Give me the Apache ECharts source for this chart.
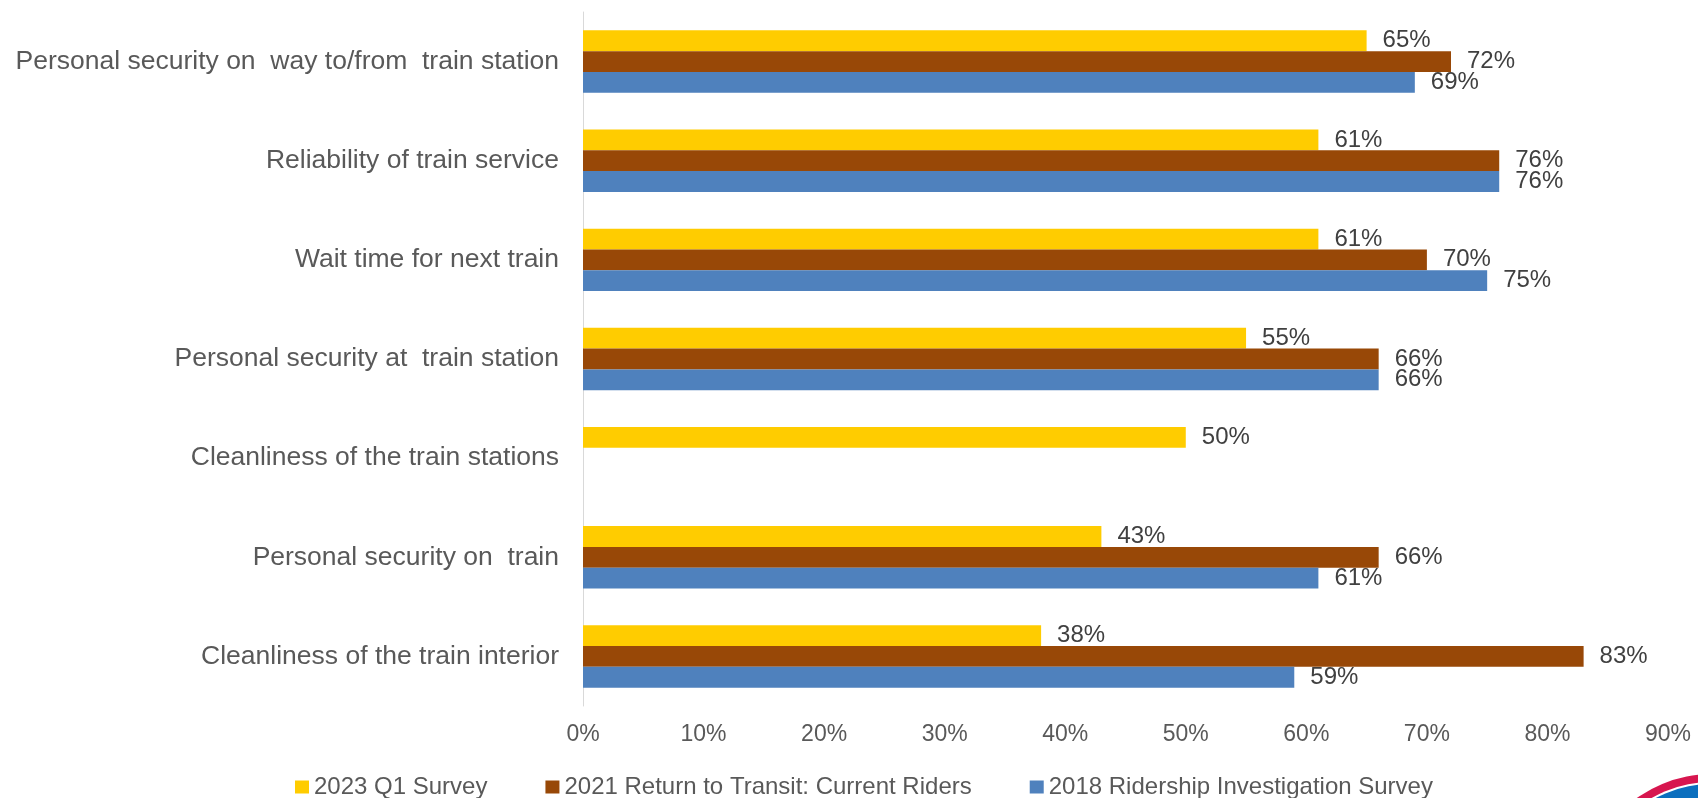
<!DOCTYPE html>
<html>
<head>
<meta charset="utf-8">
<title>Satisfaction with rail service attributes</title>
<script src="https://cdn.jsdelivr.net/npm/echarts@6/dist/echarts.min.js"></script>
<style>
  html, body { margin: 0; padding: 0; background: #ffffff; }
  #chart { width: 1698px; height: 798px; }
</style>
</head>
<body>
<div id="chart"></div>
<script>
// Attributes, listed top to bottom
const categories = [
  'Personal security on  way to/from  train station',
  'Reliability of train service',
  'Wait time for next train',
  'Personal security at  train station',
  'Cleanliness of the train stations',
  'Personal security on  train',
  'Cleanliness of the train interior'
];

// Share of riders satisfied (%), one array per survey
const survey2023 = [65, 61, 61, 55, 50, 43, 38];
const survey2021 = [72, 76, 70, 66, null, 66, 83];
const survey2018 = [69, 76, 75, 66, null, 61, 59];

const seriesNames = [
  '2023 Q1 Survey',
  '2021 Return to Transit: Current Riders',
  '2018 Ridership Investigation Survey'
];

// Percent axis ticks
const axisMin = 0;
const axisMax = 90;
const axisStep = 10;

const colors = ['#FFCC00', '#984807', '#4F81BD'];
const fontFamily = '"Liberation Sans", Arial, sans-serif';

function barSeries(name, data, color) {
  return {
    name: name,
    type: 'bar',
    data: data,
    barGap: '0%',
    barCategoryGap: '37%',
    itemStyle: { color: color },
    label: {
      show: true,
      position: 'right',
      distance: 16,
      formatter: p => p.value + '%',
      color: '#404040',
      fontSize: 24,
      fontFamily: fontFamily
    },
    emphasis: { disabled: true }
  };
}

const chart = echarts.init(document.getElementById('chart'), null, { renderer: 'canvas' });

chart.setOption({
  animation: false,
  backgroundColor: '#ffffff',
  textStyle: { fontFamily: fontFamily },
  grid: { left: 583, right: 30, top: 12, bottom: 92, containLabel: false },
  legend: {
    data: seriesNames,
    left: 295,
    top: 775,
    padding: 0,
    icon: 'rect',
    itemWidth: 14,
    itemHeight: 13,
    itemGap: 58,
    textStyle: { color: '#595959', fontSize: 24, fontFamily: fontFamily }
  },
  xAxis: {
    type: 'value',
    min: axisMin,
    max: axisMax,
    interval: axisStep,
    axisLine: { show: false },
    axisTick: { show: false },
    splitLine: { show: false },
    axisLabel: {
      formatter: '{value}%',
      color: '#595959',
      fontSize: 23,
      margin: 17,
      fontFamily: fontFamily
    }
  },
  yAxis: {
    type: 'category',
    data: categories,
    inverse: true,
    axisLine: { show: true, lineStyle: { color: '#D9D9D9', width: 1 } },
    axisTick: { show: false },
    axisLabel: {
      color: '#595959',
      fontSize: 26.5,
      margin: 24,
      fontFamily: fontFamily
    }
  },
  series: [
    barSeries(seriesNames[0], survey2023, colors[0]),
    barSeries(seriesNames[1], survey2021, colors[1]),
    barSeries(seriesNames[2], survey2018, colors[2])
  ],
  // Corner emblem, partly off the page
  graphic: [
    { type: 'circle', shape: { cx: 1712, cy: 904, r: 130 }, style: { fill: '#D7164F' }, z: 10, silent: true },
    { type: 'circle', shape: { cx: 1712, cy: 904, r: 122 }, style: { fill: '#ffffff' }, z: 11, silent: true },
    { type: 'circle', shape: { cx: 1712, cy: 904, r: 120 }, style: { fill: '#0B6FBE' }, z: 12, silent: true }
  ]
});
</script>
</body>
</html>
